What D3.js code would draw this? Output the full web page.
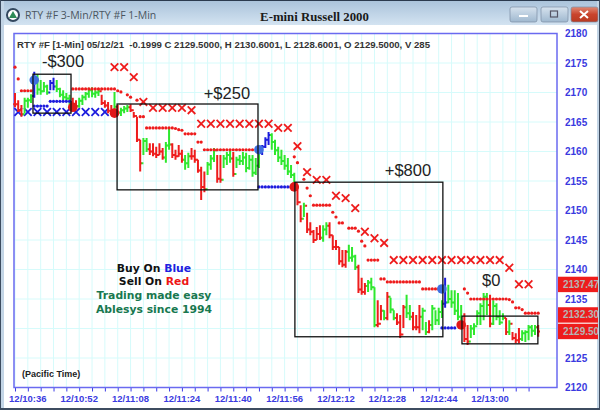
<!DOCTYPE html>
<html><head><meta charset="utf-8">
<script src="https://cdn.jsdelivr.net/npm/d3@7"></script>
<style>html,body{margin:0;padding:0;background:#fff;overflow:hidden}svg{display:block}</style>
</head><body><svg id="c" width="600" height="410"></svg>
<script>
const windowTitle = "RTY #F 3-Min/RTY #F 1-Min";
const chartTitle = "E-mini Russell 2000";
const headerText = "RTY #F [1-Min] 05/12/21  -0.1999 C 2129.5000, H 2130.6001, L 2128.6001, O 2129.5000, V 285";
const priceTicks = [2180,2175,2170,2165,2160,2155,2150,2145,2140,2135,2125,2120];
const timeLabels = ["12/10:36","12/10:52","12/11:08","12/11:24","12/11:40","12/11:56","12/12:12","12/12:28","12/12:44","12/13:00"];
const timeLabelBars = [4,20,36,52,68,84,100,116,132,148];
const minorTickBars = d3.range(0,164,4);
const priceFlags = [["2137.47",2137.47],["2132.30",2132.30],["2129.50",2129.50]];

// one-minute bars
const highs = [2169.9,2168.7,2167.9,2169.1,2169.1,2169.7,2173.5,2173.1,2172.1,2171.8,2171.3,2172.1,2172.5,2172.1,2170.8,2170.4,2169.9,2169.6,2169.1,2168.7,
2169.1,2169.6,2170.1,2170.8,2170.9,2170.4,2170.6,2169.6,2168.7,2168.4,2167.9,2170.1,2167.9,2167.4,2167.7,2167.9,2168.0,2166.7,2165.9,2162.0,
2162.3,2162.3,2161.4,2161.4,2160.8,2161.4,2160.6,2161.6,2164.0,2161.4,2160.3,2161.1,2160.3,2159.4,2159.8,2160.6,2160.3,2158.6,2157.4,2156.6,
2158.2,2159.4,2160.6,2159.4,2159.4,2159.4,2159.9,2160.3,2159.9,2159.1,2159.4,2159.9,2159.8,2159.4,2159.4,2158.9,2160.6,2161.1,2162.4,2163.3,
2163.1,2162.0,2160.8,2160.3,2159.4,2158.9,2157.7,2156.4,2154.2,2150.9,2151.3,2149.6,2148.0,2146.7,2147.2,2147.5,2147.5,2148.0,2148.0,2145.8,
2145.0,2143.8,2143.3,2143.3,2144.2,2143.8,2142.5,2140.8,2138.6,2137.7,2138.2,2138.6,2137.0,2134.8,2134.0,2133.1,2136.2,2135.2,2133.1,2132.6,
2132.3,2134.0,2135.7,2134.0,2132.8,2132.3,2134.0,2133.5,2131.1,2131.4,2134.0,2133.1,2133.5,2134.8,2138.6,2137.4,2136.5,2136.5,2136.0,2134.0,
2132.6,2130.6,2130.6,2130.9,2133.1,2134.3,2136.0,2136.0,2135.7,2134.8,2134.3,2133.1,2132.6,2131.8,2131.4,2129.4,2129.2,2130.1,2129.7,2129.7,
2130.6,2130.6,2130.6,2130.6];
const lows = [2167.5,2166.7,2165.9,2166.5,2167.4,2168.2,2169.1,2169.6,2169.6,2170.1,2169.6,2170.4,2170.4,2170.1,2169.2,2168.7,2168.7,2167.9,2167.4,2167.4,
2167.4,2167.9,2168.7,2169.1,2169.2,2169.1,2169.4,2167.9,2167.4,2166.5,2166.5,2166.7,2166.2,2166.0,2166.5,2166.7,2166.7,2165.7,2161.6,2156.6,
2159.4,2159.9,2159.4,2159.2,2158.9,2159.4,2158.6,2158.1,2160.3,2158.9,2158.6,2159.1,2158.1,2156.9,2157.2,2158.6,2158.1,2156.4,2151.8,2153.1,
2156.0,2156.9,2158.2,2154.7,2154.7,2157.2,2157.7,2158.1,2155.7,2157.2,2157.7,2157.7,2156.5,2156.9,2155.7,2156.0,2157.2,2159.4,2160.6,2161.1,
2160.3,2159.4,2158.2,2157.7,2156.9,2156.0,2155.5,2154.2,2150.9,2148.0,2148.9,2146.2,2145.8,2144.5,2145.0,2145.0,2144.7,2145.8,2145.3,2143.3,
2143.3,2140.8,2140.4,2140.3,2141.3,2141.3,2139.9,2136.0,2135.7,2135.7,2136.2,2136.5,2130.2,2130.2,2131.4,2131.4,2131.4,2132.6,2131.4,2130.6,
2128.4,2130.1,2131.8,2131.4,2129.7,2129.7,2129.2,2129.7,2128.9,2129.2,2129.7,2130.6,2130.6,2131.8,2133.5,2134.3,2133.5,2132.3,2131.4,2130.6,
2127.7,2127.2,2128.4,2128.9,2130.6,2130.6,2131.4,2132.3,2130.2,2130.6,2131.4,2130.6,2131.4,2128.9,2128.9,2128.0,2127.5,2127.5,2127.9,2127.7,
2128.0,2128.6,2128.9,2128.6];
const closes = [2168.0,2167.0,2166.3,2168.6,2168.7,2169.4,2172.5,2170.5,2170.2,2171.0,2170.0,2171.6,2171.0,2170.6,2169.6,2169.2,2169.0,2168.4,2167.8,2167.7,
2168.6,2169.2,2169.8,2170.4,2169.8,2170.0,2170.2,2168.2,2167.8,2166.9,2167.0,2167.6,2166.6,2167.0,2167.3,2167.5,2167.0,2166.0,2162.0,2158.0,
2161.8,2160.4,2160.0,2159.6,2159.4,2160.0,2159.0,2161.0,2161.2,2159.4,2159.2,2159.6,2158.6,2158.0,2159.2,2159.2,2158.6,2156.8,2154.0,2153.6,
2157.8,2158.8,2160.2,2155.4,2155.2,2158.8,2159.4,2158.8,2156.2,2158.6,2158.4,2159.0,2157.2,2158.6,2156.4,2157.6,2160.2,2160.8,2162.0,2162.8,
2161.6,2160.2,2159.0,2158.4,2157.6,2156.6,2156.0,2154.6,2151.4,2148.6,2150.8,2146.8,2146.4,2145.0,2146.0,2145.4,2146.8,2147.4,2145.8,2143.8,
2143.8,2141.4,2140.8,2143.0,2142.0,2142.2,2140.4,2136.6,2136.2,2137.2,2137.8,2137.0,2130.6,2130.8,2133.0,2131.8,2135.4,2133.2,2131.8,2131.0,
2129.0,2133.6,2132.6,2132.0,2130.2,2130.2,2132.0,2133.0,2129.4,2130.6,2133.4,2131.4,2132.8,2134.2,2134.4,2135.0,2134.4,2133.0,2132.0,2131.0,
2128.2,2127.8,2130.0,2130.4,2132.6,2133.8,2135.4,2134.0,2130.8,2133.8,2132.0,2131.0,2131.8,2129.4,2130.8,2128.4,2128.0,2128.2,2129.2,2129.4,
2130.2,2129.6,2130.2,2129.5];
const barSignals = "RRRGGGBGGGGBBGGGGGRRGGGGGGGRRRRGRGGGRRRRGGRRRRRGGRRRRGGRRRRRGGGRRGGGRGGGGGGGGBBBGGGGGGGGRRGRRRRRGGRRRRRRGGGRRRGGGRRGRGGRRRGGRRRGGRGGGGBGGGGGRRGGGGGGRGGGGRGRRRGGGGGR";

// sell stops: 3-minute crosses
const sellCrossBars = [31,34,37,40,43,46,49,52,55,58,61,64,67,70,73,76,79,82,85,88,91,94,97,100,103,106,109,112,115,118,121,124,127,130,133,136,139,142,145,148,151,154,157,160];
const sellCrossPrices = [2174.3,2174.3,2172.6,2168.4,2167.4,2167.4,2167.4,2167.4,2167.0,2164.7,2164.7,2164.7,2164.7,2164.7,2164.7,2164.7,2164.7,2164.0,2164.0,2160.9,2156.5,2155.2,2155.2,2152.5,2152.1,2150.4,2146.4,2145.3,2144.5,2141.6,2141.6,2141.6,2141.6,2141.6,2141.6,2141.6,2141.6,2141.6,2141.6,2141.6,2141.6,2140.3,2137.5,2137.5];
const buyCrossBars = [1,4,7,10,13,16,19,22,25,28];
const buyCrossPrices = [2166.7,2166.7,2166.7,2166.7,2166.7,2166.7,2166.7,2166.7,2166.7,2166.7];

// one-minute stop dots
const redDotBars = [0,1,2,3,4,5,18,19,20,21,22,23,24,25,26,27,28,29,30,31,32,33,35,36,38,39,40,41,42,43,44,45,46,47,48,49,50,51,52,53,54,55,56,57,58,
59,60,61,62,63,64,65,66,67,68,69,70,71,72,73,74,87,88,90,91,92,93,94,95,96,97,98,99,100,101,102,104,105,106,107,108,109,110,111,112,113,114,115,
116,117,118,119,120,121,122,123,124,125,126,127,128,129,130,131,132,133,140,141,142,143,144,145,146,147,148,149,150,151,152,153,154,155,156,157,158,159,160,161,162,163];
const redDotPrices = [2174.3,2172.3,2170.3,2170.3,2170.3,2170.3,2170.6,2170.6,2170.6,2170.6,2170.6,2170.6,2170.6,2170.6,2170.6,2170.6,2170.6,2170.6,2170.6,2170.6,2170.3,2170.1,2169.6,2169.2,2168.7,2165.9,2165.9,2164,2164,2164,2164,2164,2164,2164,2164,2164,2163.9,2163.7,2163.6,2163,2163,2163,2163,2161.6,2161.6,
2160.3,2160.3,2160.3,2160.3,2160.3,2160.3,2160.3,2160.3,2160.3,2160.3,2160.3,2160.3,2160.3,2160.3,2160.3,2160.3,2159.1,2158.1,2155.3,2153.8,2152.5,2150.9,2150.9,2150.9,2150.9,2150.9,2150.9,2149.7,2148.9,2147.9,2147.9,2147,2147,2147,2146.5,2144.8,2144,2141.6,2141.6,2141.6,2141.6,2138.4,2138.4,
2137.9,2137.9,2137.9,2137.9,2137.9,2137.9,2137.9,2137.9,2137.9,2137.9,2137.9,2136.7,2136.7,2136.7,2136.7,2136.7,2136.7,2136.7,2136.7,2136,2135,2135,2135,2135,2135,2135,2135,2135,2135,2135,2135,2135,2134.9,2134.5,2133.5,2133.5,2133.2,2132.6,2132.6,2132.6,2132.6,2132.6];
const blueDotBars = [6,7,8,9,10,11,12,13,14,15,16,17,76,77,78,79,80,81,82,83,84,85,86,87,133,134,135,136,137];
const blueDotPrices = [2167.7,2167.7,2167.7,2167.7,2167.7,2168.5,2168.5,2168.5,2168.5,2168.5,2168.5,2168.5,2154,2154,2154,2154,2154,2154,2154,2154,2154,2154,2154,2154,2130.1,2130.1,2130.1,2130.1,2130.1];

// big signal circles
const signalBars = [6,18,31,76,87,133,139];
const signalPrices = [2172.1,2167.5,2166.5,2160.3,2154,2136.7,2130.6];
const signalKinds = ["b","r","r","b","r","b","r"];

// trade boxes
const tradeLabels = ["-$300","+$250","+$800","$0"];
const tradeStarts = [5.6,31.8,87.2,139.25];
const tradeEnds = [17.45,75.7,133.3,162.9];
const tradeTops = [2173.1,2168.05,2154.8,2132.1];
const tradeBottoms = [2166.5,2153.5,2128.6,2127.4];
const tradeLabelBars = [8.4,58.8,115.2,145.5];
const tradeLabelPrices = [2174.4,2168.9,2155.9,2137.2];

const RED="#ee1c1c", GREEN="#2ee82e", BLUE="#1c1cdd", AXIS="#3a3ae6", GRID="#d6fbfb";
const svg=d3.select("#c");
const x=d3.scaleLinear().domain([0,163]).range([15,538.2]);
const y=d3.scaleLinear().domain([2120,2180]).range([387.5,33.5]);
const L=14,R=557,T=33.5,B=387.5;

// window chrome
const defs=svg.append("defs");
const g1=defs.append("linearGradient").attr("id","tb").attr("x1",0).attr("y1",0).attr("x2",0).attr("y2",1);
g1.append("stop").attr("offset",0).attr("stop-color","#a9c2da");
g1.append("stop").attr("offset",1).attr("stop-color","#d3e3f1");
const g2=defs.append("linearGradient").attr("id","cl").attr("x1",0).attr("y1",0).attr("x2",0).attr("y2",1);
g2.append("stop").attr("offset",0).attr("stop-color","#e08a74");
g2.append("stop").attr("offset",.5).attr("stop-color","#c9432c");
g2.append("stop").attr("offset",1).attr("stop-color","#b83a22");
const g3=defs.append("linearGradient").attr("id","bt").attr("x1",0).attr("y1",0).attr("x2",0).attr("y2",1);
g3.append("stop").attr("offset",0).attr("stop-color","#d6e2ee");
g3.append("stop").attr("offset",1).attr("stop-color","#9fb8cf");
defs.append("clipPath").attr("id","fl").append("rect").attr("x",558).attr("y",0).attr("width",40).attr("height",410);

svg.append("rect").attr("width",600).attr("height",410).attr("fill","#fff");
svg.append("rect").attr("width",600).attr("height",25).attr("fill","url(#tb)");
svg.append("rect").attr("width",4).attr("height",410).attr("fill","#c3d5e6");
svg.append("rect").attr("x",597).attr("width",3).attr("height",410).attr("fill","#c3d5e6");
svg.append("rect").attr("width",600).attr("height",1).attr("fill","#2b3a4e");
svg.append("rect").attr("width",1).attr("height",410).attr("fill","#3d4c60");
svg.append("rect").attr("x",599).attr("width",1).attr("height",410).attr("fill","#3d4c60");
svg.append("rect").attr("y",408).attr("width",600).attr("height",2).attr("fill","#3d4c60");
[[510,27,"url(#bt)"],[541,27,"url(#bt)"],[571,27,"url(#cl)"]].forEach(b=>{
  svg.append("rect").attr("x",b[0]).attr("y",7).attr("width",b[1]).attr("height",15).attr("rx",2).attr("fill",b[2]).attr("stroke","#7b8ea3").attr("stroke-width",.7);
});
svg.append("rect").attr("x",519).attr("y",15).attr("width",9).attr("height",2).attr("fill","#fff");
svg.append("rect").attr("x",550.5).attr("y",11).attr("width",7).attr("height",6).attr("fill","none").attr("stroke","#556").attr("stroke-width",1.2);
svg.append("path").attr("d","M580 11L588 18M588 11L580 18").attr("stroke","#fff").attr("stroke-width",2);
svg.append("circle").attr("cx",13).attr("cy",15).attr("r",6).attr("fill","#fff").attr("stroke","#33485f").attr("stroke-width",2);
svg.append("path").attr("d","M13 11L17 18H9Z").attr("fill","#2e8b57");
svg.append("text").attr("x",25).attr("y",19).attr("font-family","'Open Sans'").attr("font-size",10.5).attr("fill","#4a5560").text(windowTitle);
svg.append("text").attr("x",314.5).attr("y",21).attr("text-anchor","middle").attr("font-family","'Liberation Serif'").attr("font-weight","bold").attr("font-size",12.8).attr("fill","#1a1a1a").text(chartTitle);

// grid
svg.append("g").selectAll("line").data(priceTicks.concat([2130])).join("line")
 .attr("x1",L).attr("x2",R).attr("y1",d=>y(d)).attr("y2",d=>y(d)).attr("stroke",GRID);
svg.append("g").selectAll("line").data(minorTickBars).join("line")
 .attr("x1",d=>x(d)).attr("x2",d=>x(d)).attr("y1",T).attr("y2",B).attr("stroke",GRID);

// axes
const ax=d3.axisBottom(x).tickValues(minorTickBars).tickSize(4).tickFormat("");
const gx=svg.append("g").attr("transform",`translate(0,${B})`).call(ax);
gx.select(".domain").remove(); gx.selectAll("line").attr("stroke",AXIS);
svg.append("g").selectAll("text").data(timeLabels).join("text")
 .attr("x",(d,i)=>x(timeLabelBars[i])).attr("y",402).attr("text-anchor","middle")
 .attr("font-family","'Liberation Sans'").attr("font-weight","bold").attr("font-size",9.5).attr("fill","#3a3ae0").text(d=>d);
const ay=d3.axisRight(y).tickValues(priceTicks).tickSize(0).tickPadding(8).tickFormat(d3.format("d"));
const gy=svg.append("g").attr("transform",`translate(${R},0)`).call(ay);
gy.select(".domain").remove();
gy.selectAll("text").attr("font-family","'Liberation Sans'").attr("font-weight","bold").attr("font-size",10).attr("fill","#3a3ae0");
svg.append("rect").attr("x",L).attr("y",T).attr("width",R-L).attr("height",B-T).attr("fill","none").attr("stroke","#6a6af0").attr("stroke-width",1.5);

// price flags
const fl=svg.append("g").attr("clip-path","url(#fl)");
priceFlags.forEach(f=>{
 fl.append("rect").attr("x",558).attr("y",y(f[1])-7.7).attr("width",40).attr("height",15.4).attr("fill",RED);
 fl.append("text").attr("x",563).attr("y",y(f[1])+3.5).attr("font-family","'Liberation Sans'").attr("font-weight","bold").attr("font-size",10).attr("fill","#b5b5b5").text(f[0]);
});

svg.append("text").attr("x",17).attr("y",48).attr("xml:space","preserve").style("white-space","pre").attr("font-family","'Liberation Sans'").attr("font-weight","bold").attr("font-size",9.6).attr("fill","#333").text(headerText);

// crosses
const cross=(bars,prices,col)=>svg.append("g").selectAll("path").data(bars).join("path")
 .attr("d",(d,i)=>{const a=x(d),b=y(prices[i]),r=3.8;return `M${a-r} ${b-r}L${a+r} ${b+r}M${a-r} ${b+r}L${a+r} ${b-r}`;})
 .attr("stroke",col).attr("stroke-width",1.8).attr("fill","none");
cross(buyCrossBars,buyCrossPrices,BLUE);

// bars
const sigCol={R:RED,G:GREEN,B:BLUE};
svg.append("g").selectAll("path").data(highs).join("path")
 .attr("d",(d,i)=>{const a=x(i);const o=i?closes[i-1]:closes[i];
   return `M${a} ${y(highs[i])}V${y(lows[i])}M${a-1.8} ${y(o)}H${a}M${a} ${y(closes[i])}H${a+1.8}`;})
 .attr("stroke",(d,i)=>sigCol[barSignals[i]]).attr("stroke-width",2).attr("fill","none");

cross(sellCrossBars,sellCrossPrices,RED);
svg.append("g").selectAll("circle").data(redDotBars).join("circle")
 .attr("cx",d=>x(d)).attr("cy",(d,i)=>y(redDotPrices[i])).attr("r",1.6).attr("fill",RED);
svg.append("g").selectAll("circle").data(blueDotBars).join("circle")
 .attr("cx",d=>x(d)).attr("cy",(d,i)=>y(blueDotPrices[i])).attr("r",1.6).attr("fill",BLUE);
svg.append("g").selectAll("circle").data(signalBars).join("circle")
 .attr("cx",d=>x(d)).attr("cy",(d,i)=>y(signalPrices[i])).attr("r",4.8)
 .attr("fill",(d,i)=>signalKinds[i]==="b"?"#3f6fe0":"#e01818");

// trade boxes
svg.append("g").selectAll("rect").data(tradeLabels).join("rect")
 .attr("x",(d,i)=>x(tradeStarts[i])).attr("width",(d,i)=>x(tradeEnds[i])-x(tradeStarts[i]))
 .attr("y",(d,i)=>y(tradeTops[i])).attr("height",(d,i)=>y(tradeBottoms[i])-y(tradeTops[i]))
 .attr("fill","none").attr("stroke","#111").attr("stroke-width",1.3);
svg.append("g").selectAll("text").data(tradeLabels).join("text")
 .attr("x",(d,i)=>x(tradeLabelBars[i])).attr("y",(d,i)=>y(tradeLabelPrices[i]))
 .attr("font-family","'Liberation Sans'").attr("font-size",16.5).attr("fill","#222").text(d=>d);

// notes
const note=(cy,parts)=>{
 const t=svg.append("text").attr("x",154).attr("y",cy).attr("text-anchor","middle").attr("font-family","'DejaVu Sans'").attr("font-weight","bold").attr("font-size",10.8);
 parts.forEach(p=>t.append("tspan").attr("fill",p[1]).text(p[0]));
};
note(272,[["Buy On ","#111"],["Blue","#2020e0"]]);
note(285,[["Sell On ","#111"],["Red","#ee1515"]]);
note(299,[["Trading made easy","#17784f"]]);
note(313,[["Ablesys since 1994","#17784f"]]);
svg.append("text").attr("x",22).attr("y",377).attr("font-family","'Liberation Sans'").attr("font-weight","bold").attr("font-size",9).attr("fill","#222").text("(Pacific Time)");
</script></body></html>
